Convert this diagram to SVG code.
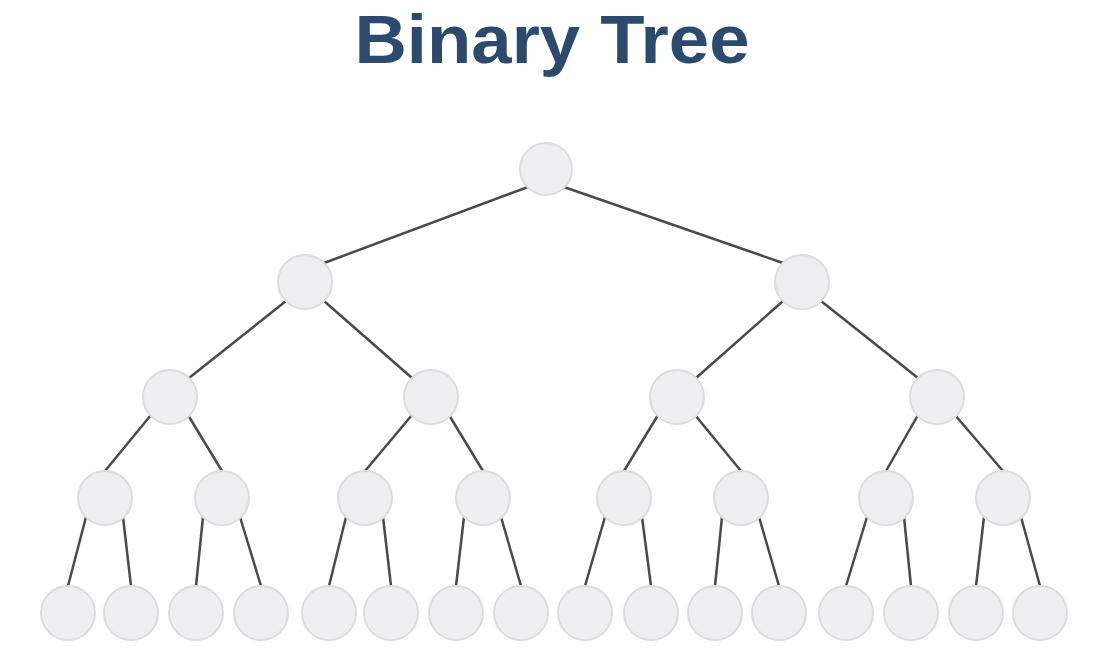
<svg xmlns="http://www.w3.org/2000/svg" width="1096" height="650" viewBox="0 0 1096 650">
<style>
.edge{stroke:#4a4a4a;stroke-width:2.5;fill:none;stroke-linecap:butt}
.node{fill:#efeff2;stroke:#dcdcde;stroke-width:2}
.title{font-family:"Liberation Sans",Arial,sans-serif;font-weight:bold;font-size:68px;fill:#2c4a6e}
</style>
<rect width="1096" height="650" fill="#ffffff"/>
<text class="title" x="552" y="63" text-anchor="middle" textLength="395" lengthAdjust="spacingAndGlyphs">Binary Tree</text>
<g id="connectors">
<line class="edge" x1="528" y1="187" x2="324" y2="263"/>
<line class="edge" x1="564" y1="187" x2="783" y2="263"/>
<line class="edge" x1="286" y1="301" x2="189" y2="378"/>
<line class="edge" x1="324" y1="301" x2="412" y2="378"/>
<line class="edge" x1="783" y1="301" x2="696" y2="378"/>
<line class="edge" x1="821" y1="301" x2="918" y2="378"/>
<line class="edge" x1="151" y1="415" x2="105" y2="471"/>
<line class="edge" x1="188" y1="415" x2="222" y2="471"/>
<line class="edge" x1="412" y1="415" x2="365" y2="471"/>
<line class="edge" x1="449" y1="415" x2="483" y2="471"/>
<line class="edge" x1="658" y1="415" x2="624" y2="471"/>
<line class="edge" x1="695" y1="415" x2="741" y2="471"/>
<line class="edge" x1="918" y1="415" x2="886" y2="471"/>
<line class="edge" x1="955" y1="415" x2="1003" y2="471"/>
<line class="edge" x1="86" y1="517" x2="68" y2="586"/>
<line class="edge" x1="123" y1="517" x2="131" y2="586"/>
<line class="edge" x1="203" y1="517" x2="196" y2="586"/>
<line class="edge" x1="240" y1="517" x2="261" y2="586"/>
<line class="edge" x1="346" y1="517" x2="329" y2="586"/>
<line class="edge" x1="383" y1="517" x2="391" y2="586"/>
<line class="edge" x1="464" y1="517" x2="456" y2="586"/>
<line class="edge" x1="501" y1="517" x2="521" y2="586"/>
<line class="edge" x1="605" y1="517" x2="585" y2="586"/>
<line class="edge" x1="642" y1="517" x2="651" y2="586"/>
<line class="edge" x1="722" y1="517" x2="715" y2="586"/>
<line class="edge" x1="759" y1="517" x2="779" y2="586"/>
<line class="edge" x1="867" y1="517" x2="846" y2="586"/>
<line class="edge" x1="904" y1="517" x2="911" y2="586"/>
<line class="edge" x1="984" y1="517" x2="976" y2="586"/>
<line class="edge" x1="1021" y1="517" x2="1040" y2="586"/>
</g>
<g id="n0"><circle class="node" cx="546" cy="169" r="26"/></g>
<g id="n1"><circle class="node" cx="305" cy="282" r="27"/></g>
<g id="n2"><circle class="node" cx="802" cy="282" r="27"/></g>
<g id="n3"><circle class="node" cx="170" cy="397" r="27"/></g>
<g id="n4"><circle class="node" cx="431" cy="397" r="27"/></g>
<g id="n5"><circle class="node" cx="677" cy="397" r="27"/></g>
<g id="n6"><circle class="node" cx="937" cy="397" r="27"/></g>
<g id="n7"><circle class="node" cx="105" cy="498" r="27"/></g>
<g id="n8"><circle class="node" cx="222" cy="498" r="27"/></g>
<g id="n9"><circle class="node" cx="365" cy="498" r="27"/></g>
<g id="n10"><circle class="node" cx="483" cy="498" r="27"/></g>
<g id="n11"><circle class="node" cx="624" cy="498" r="27"/></g>
<g id="n12"><circle class="node" cx="741" cy="498" r="27"/></g>
<g id="n13"><circle class="node" cx="886" cy="498" r="27"/></g>
<g id="n14"><circle class="node" cx="1003" cy="498" r="27"/></g>
<g id="n15"><circle class="node" cx="68" cy="613" r="27"/></g>
<g id="n16"><circle class="node" cx="131" cy="613" r="27"/></g>
<g id="n17"><circle class="node" cx="196" cy="613" r="27"/></g>
<g id="n18"><circle class="node" cx="261" cy="613" r="27"/></g>
<g id="n19"><circle class="node" cx="329" cy="613" r="27"/></g>
<g id="n20"><circle class="node" cx="391" cy="613" r="27"/></g>
<g id="n21"><circle class="node" cx="456" cy="613" r="27"/></g>
<g id="n22"><circle class="node" cx="521" cy="613" r="27"/></g>
<g id="n23"><circle class="node" cx="585" cy="613" r="27"/></g>
<g id="n24"><circle class="node" cx="651" cy="613" r="27"/></g>
<g id="n25"><circle class="node" cx="715" cy="613" r="27"/></g>
<g id="n26"><circle class="node" cx="779" cy="613" r="27"/></g>
<g id="n27"><circle class="node" cx="846" cy="613" r="27"/></g>
<g id="n28"><circle class="node" cx="911" cy="613" r="27"/></g>
<g id="n29"><circle class="node" cx="976" cy="613" r="27"/></g>
<g id="n30"><circle class="node" cx="1040" cy="613" r="27"/></g>
</svg>
